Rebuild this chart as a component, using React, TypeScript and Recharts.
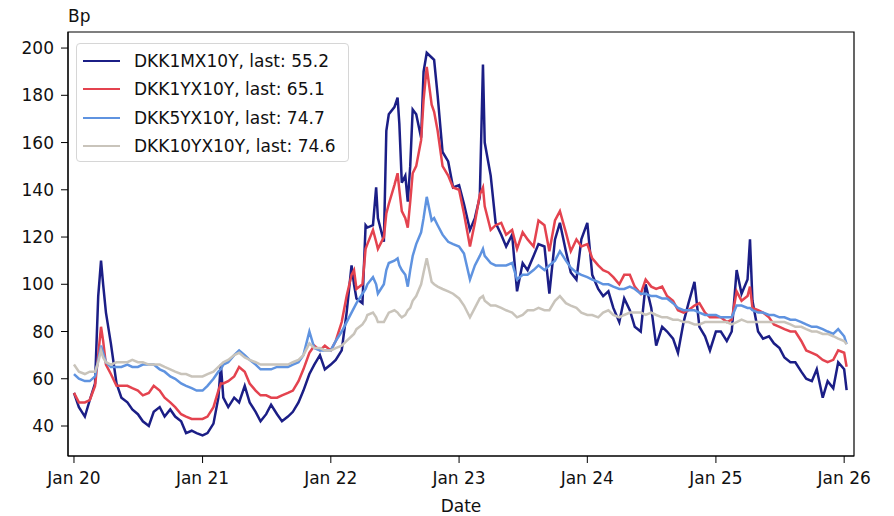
import { Line, LineChart, ReferenceArea, XAxis, YAxis } from 'recharts';

// half-monthly observations, with a few extra dates around the spikes
const DATES = [
  '2020-01-01', '2020-01-15', '2020-02-01', '2020-02-15', '2020-03-01', '2020-03-10', '2020-03-18', '2020-03-24',
  '2020-04-01', '2020-04-15', '2020-05-01', '2020-05-15', '2020-06-01', '2020-06-15', '2020-07-01', '2020-07-15',
  '2020-08-01', '2020-08-15', '2020-09-01', '2020-09-15', '2020-10-01', '2020-10-15', '2020-11-01', '2020-11-15',
  '2020-12-01', '2020-12-15',
  '2021-01-01', '2021-01-15', '2021-02-01', '2021-02-15', '2021-02-22', '2021-03-01', '2021-03-15', '2021-04-01',
  '2021-04-15', '2021-05-01', '2021-05-15', '2021-06-01', '2021-06-15', '2021-07-01', '2021-07-15', '2021-08-01',
  '2021-08-15', '2021-09-01', '2021-09-15', '2021-10-01', '2021-10-15', '2021-11-01', '2021-11-15', '2021-12-01',
  '2021-12-15',
  '2022-01-01', '2022-01-15', '2022-02-01', '2022-02-15', '2022-03-01', '2022-03-08', '2022-03-15', '2022-04-01',
  '2022-04-10', '2022-04-15', '2022-05-01', '2022-05-10', '2022-05-15', '2022-06-01', '2022-06-08', '2022-06-15',
  '2022-07-01', '2022-07-10', '2022-07-15', '2022-07-22', '2022-08-01', '2022-08-08', '2022-08-15', '2022-08-22',
  '2022-09-01', '2022-09-15', '2022-09-22', '2022-10-01', '2022-10-15', '2022-10-22', '2022-11-01', '2022-11-15',
  '2022-12-01', '2022-12-15',
  '2023-01-01', '2023-01-15', '2023-02-01', '2023-02-15', '2023-03-01', '2023-03-10', '2023-03-15', '2023-04-01',
  '2023-04-15', '2023-05-01', '2023-05-15', '2023-06-01', '2023-06-15', '2023-07-01', '2023-07-15', '2023-08-01',
  '2023-08-15', '2023-09-01', '2023-09-15', '2023-10-01', '2023-10-15', '2023-11-01', '2023-11-15', '2023-12-01',
  '2023-12-15',
  '2024-01-01', '2024-01-15', '2024-02-01', '2024-02-15', '2024-03-01', '2024-03-15', '2024-04-01', '2024-04-15',
  '2024-05-01', '2024-05-15', '2024-06-01', '2024-06-15', '2024-07-01', '2024-07-15', '2024-08-01', '2024-08-15',
  '2024-09-01', '2024-09-15', '2024-10-01', '2024-10-15', '2024-11-01', '2024-11-15', '2024-12-01', '2024-12-15',
  '2025-01-01', '2025-01-15', '2025-02-01', '2025-02-15', '2025-03-01', '2025-03-15', '2025-04-01', '2025-04-08',
  '2025-04-15', '2025-05-01', '2025-05-15', '2025-06-01', '2025-06-15', '2025-07-01', '2025-07-15', '2025-08-01',
  '2025-08-15', '2025-09-01', '2025-09-15', '2025-10-01', '2025-10-15', '2025-11-01', '2025-11-15', '2025-12-01',
  '2025-12-15', '2026-01-01', '2026-01-08',
];

const DKK1MX10Y = [
  54, 48, 44, 51, 58, 95, 110, 100, 88, 75, 58, 52, 50, 47, 45, 42, 40, 46, 48, 44, 47, 44, 42, 37, 38, 37,
  36, 37, 41, 52, 66, 52, 48, 52, 50, 57, 50, 46, 42, 45, 49, 45, 42, 44, 46, 50, 55, 62, 66, 70, 64,
  66, 68, 72, 88, 108, 100, 94, 92, 125, 124, 125, 141, 128, 118, 165, 172, 175, 179, 168, 143, 146, 135, 150, 174,
  172, 162, 190, 198, 196, 195, 180, 156, 152, 141,
  142, 134, 123, 128, 137, 193, 160, 146, 126, 121, 116, 121, 97, 109, 106, 112, 117, 116, 96, 119, 126, 114, 105, 102, 119,
  126, 104, 98, 95, 97, 90, 84, 94, 89, 82, 80, 100, 90, 74, 82, 80, 77, 71, 84, 92, 101, 82, 78, 72,
  80, 80, 76, 80, 106, 96, 102, 119, 93, 80, 77, 78, 75, 73, 69, 67, 67, 63, 60, 59, 64, 52, 59, 56, 67, 64, 55.2,
];

const DKK1YX10Y = [
  54, 50, 50, 51, 57, 70, 82, 76, 66, 62, 57, 57, 57, 56, 55, 53, 54, 57, 55, 52, 50, 48, 45, 44, 43, 43,
  43, 44, 48, 55, 58, 58, 59, 61, 65, 63, 58, 55, 53, 53, 52, 52, 53, 54, 55, 59, 64, 71, 74, 72, 74,
  72, 76, 84, 95, 104, 106, 98, 100, 115, 117, 123, 118, 115, 120, 130, 134, 142, 147, 140, 131, 128, 124, 135, 147,
  150, 161, 178, 192, 176, 173, 165, 150, 146, 141,
  140, 130, 116, 126, 138, 141, 133, 123, 125, 126, 121, 123, 115, 122, 119, 116, 127, 125, 114, 127, 131, 122, 114, 119, 116,
  117, 111, 108, 106, 105, 103, 100, 104, 104, 99, 96, 102, 99, 98, 99, 95, 93, 89, 88, 89, 91, 92, 88, 86,
  86, 86, 84, 85, 97, 93, 95, 99, 90, 89, 88, 86, 83, 82, 81, 80, 80, 76, 72, 71, 70, 68, 67, 68, 72, 71, 65.1,
];

const DKK5YX10Y = [
  62, 60, 59, 59, 61, 68, 74, 71, 67, 65, 65, 65, 66, 65, 65, 66, 66, 66, 64, 63, 61, 60, 58, 57, 56, 55,
  55, 57, 60, 63, 64, 66, 67, 70, 72, 70, 68, 66, 64, 64, 64, 65, 65, 65, 66, 67, 70, 80, 73, 72, 72,
  72, 76, 80, 84, 88, 90, 92, 96, 98, 100, 103, 100, 96, 100, 106, 109, 110, 111, 108, 106, 104, 99, 106, 112,
  117, 122, 128, 137, 127, 128, 125, 121, 118, 117,
  116, 113, 102, 108, 112, 115, 112, 109, 108, 108, 108, 109, 102, 104, 104, 106, 108, 106, 108, 110, 114, 110, 107, 105, 104,
  103, 102, 101, 100, 100, 99, 98, 98, 99, 98, 96, 96, 95, 95, 94, 94, 92, 90, 89, 89, 89, 88, 87, 87,
  87, 86, 86, 86, 91, 91, 90, 90, 89, 88, 88, 87, 87, 86, 86, 85, 85, 84, 83, 82, 82, 81, 80, 79, 81, 78, 74.7,
];

const DKK10YX10Y = [
  66, 63, 62, 63, 63, 67, 72, 69, 67, 66, 67, 67, 67, 68, 67, 67, 66, 66, 66, 65, 64, 63, 62, 62, 61, 61,
  61, 62, 63, 65, 66, 67, 68, 70, 71, 69, 68, 67, 66, 66, 66, 66, 66, 66, 67, 68, 70, 75, 73, 73, 72,
  72, 73, 74, 76, 78, 79, 81, 83, 85, 87, 88, 86, 84, 84, 86, 88, 89, 88, 87, 86, 87, 89, 90, 93,
  95, 100, 105, 111, 101, 100, 99, 98, 97, 96,
  94, 91, 86, 90, 94, 95, 93, 91, 91, 90, 89, 88, 86, 87, 89, 89, 90, 89, 89, 93, 95, 92, 91, 90, 88,
  87, 87, 86, 88, 89, 87, 86, 87, 88, 88, 88, 87, 88, 87, 86, 86, 85, 85, 84, 84, 83, 83, 84, 84,
  84, 84, 84, 83, 84, 85, 84, 84, 84, 84, 84, 84, 84, 84, 84, 83, 82, 82, 81, 80, 80, 79, 79, 78, 77, 76, 74.6,
];

const SERIES = [
  { key: 'm1', name: 'DKK1MX10Y', values: DKK1MX10Y, color: '#1b1e86' },
  { key: 'y1', name: 'DKK1YX10Y', values: DKK1YX10Y, color: '#e4434f' },
  { key: 'y5', name: 'DKK5YX10Y', values: DKK5YX10Y, color: '#5f93e0' },
  { key: 'y10', name: 'DKK10YX10Y', values: DKK10YX10Y, color: '#c9c4bb' },
];

const X_TICK_YEARS = [2020, 2021, 2022, 2023, 2024, 2025, 2026];
const X_TICK_LABELS = ['Jan 20', 'Jan 21', 'Jan 22', 'Jan 23', 'Jan 24', 'Jan 25', 'Jan 26'];
const Y_TICKS = [40, 60, 80, 100, 120, 140, 160, 180, 200];

const DAY = 86400000;
const X_TICKS = X_TICK_YEARS.map((y) => Date.UTC(y, 0, 1));
const X_DOMAIN = [X_TICKS[0] - 17 * DAY, X_TICKS[X_TICKS.length - 1] + 28 * DAY];
const Y_DOMAIN = [27.3, 206.8];

const FONT = '"DejaVu Sans", sans-serif';

const rows = DATES.map((d, i) => {
  const row: Record<string, number> = { t: Date.parse(d) };
  SERIES.forEach((s) => {
    row[s.key] = s.values[i];
  });
  return row;
});

function LegendBox() {
  return (
    <div
      style={{
        position: 'absolute',
        left: 76,
        top: 43,
        width: 273,
        height: 119,
        boxSizing: 'border-box',
        border: '1px solid #d6d6d6',
        borderRadius: 4,
        background: 'rgba(255,255,255,0.85)',
        fontFamily: FONT,
        fontSize: 17,
        color: '#111',
        padding: '3px 0 0 6px',
      }}
    >
      {SERIES.map((s) => (
        <div key={s.key} style={{ display: 'flex', alignItems: 'center', height: 28.3 }}>
          <div style={{ width: 37, height: 0, borderTop: `2.5px solid ${s.color}`, marginRight: 14 }} />
          <span>{`${s.name}, last: ${s.values[s.values.length - 1].toFixed(1)}`}</span>
        </div>
      ))}
    </div>
  );
}

export default function App() {
  return (
    <div style={{ position: 'absolute', left: 0, top: 0, width: 894, height: 516, background: '#fff' }}>
      <LineChart width={894} height={516} data={rows} margin={{ top: 32, right: 40, bottom: 0, left: 0 }}>
        <XAxis
          dataKey="t"
          type="number"
          domain={X_DOMAIN}
          ticks={X_TICKS}
          tickFormatter={(v: number) => X_TICK_LABELS[X_TICKS.indexOf(v)] ?? ''}
          allowDataOverflow
          height={60}
          tickSize={7}
          tickMargin={9}
          stroke="#000"
          tick={{ fontSize: 17, fontFamily: FONT, fill: '#111' }}
          label={{ value: 'Date', position: 'insideBottom', offset: 4, fontSize: 17, fontFamily: FONT, fill: '#111' }}
        />
        <YAxis
          type="number"
          domain={Y_DOMAIN}
          ticks={Y_TICKS}
          allowDataOverflow
          width={68}
          tickSize={7}
          tickMargin={7}
          stroke="#000"
          tick={{ fontSize: 17, fontFamily: FONT, fill: '#111' }}
        />
        <ReferenceArea
          x1={X_DOMAIN[0]}
          x2={X_DOMAIN[1]}
          y1={Y_DOMAIN[0]}
          y2={Y_DOMAIN[1]}
          fill="none"
          stroke="#000"
          strokeWidth={1.2}
        />
        {SERIES.map((s) => (
          <Line
            key={s.key}
            dataKey={s.key}
            stroke={s.color}
            strokeWidth={2.5}
            dot={false}
            isAnimationActive={false}
          />
        ))}
      </LineChart>
      <div
        style={{ position: 'absolute', left: 68, top: 6, fontFamily: FONT, fontSize: 17, color: '#111' }}
      >
        Bp
      </div>
      <LegendBox />
    </div>
  );
}
